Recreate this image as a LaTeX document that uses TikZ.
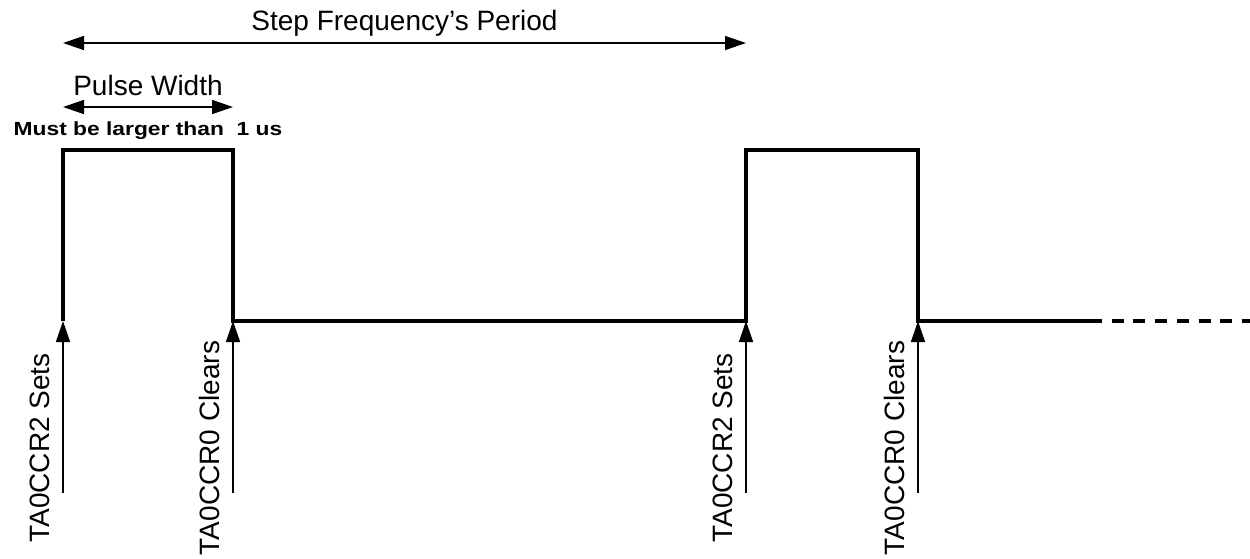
\documentclass[tikz,border=0pt]{standalone}
\usepackage{fontspec}
\setmainfont{Liberation Sans}
\usetikzlibrary{calc,arrows.meta}

\begin{document}
\begin{tikzpicture}[
    x=1pt, y=-1pt,
    every node/.style={font=\fontsize{28}{32}\selectfont, inner sep=0pt},
    signal/.style={line width=4.5pt, line join=miter},
    signal cont/.style={line width=3.5pt, dash pattern=on 12pt off 9.7pt},
    dim arrow/.style={line width=1.5pt, {Triangle[length=21pt,width=14pt]}-{Triangle[length=21pt,width=14pt]}},
    event arrow/.style={line width=1.5pt, -{Triangle[length=21pt,width=14pt]}},
    dim label/.style={midway, anchor=base, yshift=13pt},
    note label/.style={midway, anchor=base, yshift=-28pt, font=\fontsize{19}{21}\selectfont\bfseries},
    event label/.style={rotate=90, anchor=south}
]
    \useasboundingbox (0,0) rectangle (1250,558);

    % edges of the waveform
    \coordinate (set_a)   at (63,321);
    \coordinate (clr_a)   at (233,321);
    \coordinate (set_b)   at (746,321);
    \coordinate (clr_b)   at (918,321);
    \coordinate (sig_end) at (1090,321);
    \coordinate (sig_out) at (1250,321);

    \draw[signal] (set_a) -- ++(0,-171) -| (clr_a) -- (set_b) -- ++(0,-171) -| (clr_b) -- (sig_end);
    \draw[signal cont] (sig_end) -- (sig_out);

    \draw[dim arrow] (set_a |- 0,43) -- (set_b |- 0,43)
        node[dim label] (period) {Step Frequency’s Period};

    \draw[dim arrow] (set_a |- 0,107) -- (clr_a |- 0,107)
        node[dim label, yshift=-1pt] (pw) {Pulse Width}
        node[note label] (pw_min) {\scalebox{1.2}[1]{Must be larger than~~1 us}};

    \draw[event arrow] (set_a |- 0,493) -- (set_a);
    \node[event label] (set_a_txt) at ($(set_a |- 0,448)+(-13,0)$) {TA0CCR2 Sets};

    \draw[event arrow] (clr_a |- 0,493) -- (clr_a);
    \node[event label] (clr_a_txt) at ($(clr_a |- 0,448)+(-13,0)$) {TA0CCR0 Clears};

    \draw[event arrow] (set_b |- 0,493) -- (set_b);
    \node[event label] (set_b_txt) at ($(set_b |- 0,448)+(-13,0)$) {TA0CCR2 Sets};

    \draw[event arrow] (clr_b |- 0,493) -- (clr_b);
    \node[event label] (clr_b_txt) at ($(clr_b |- 0,448)+(-13,0)$) {TA0CCR0 Clears};
\end{tikzpicture}
\end{document}
